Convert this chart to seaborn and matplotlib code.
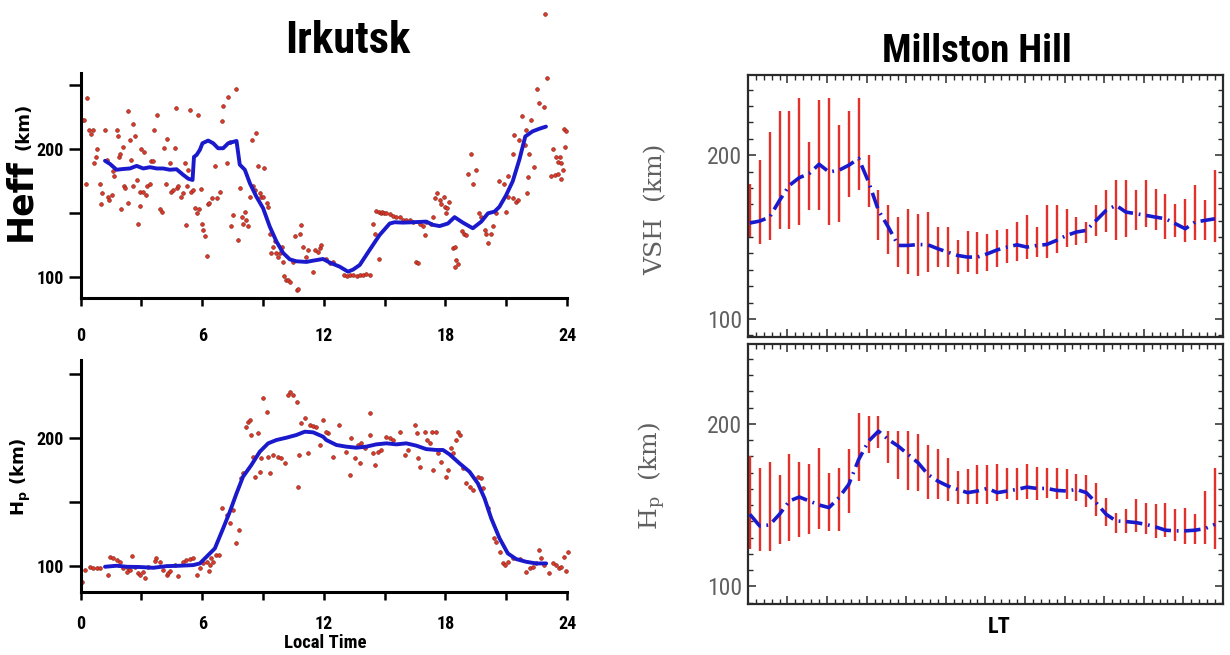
import numpy as np
import pandas as pd
import matplotlib
matplotlib.use("Agg")
import matplotlib.pyplot as plt
import seaborn as sns
from matplotlib.ticker import MultipleLocator, FixedLocator

# ---------------- data ----------------
# Irkutsk, Heff scatter (local time [h], height [km])
heff_hour = [0.05, 0.16, 0.30, 0.43, 0.59, 0.49, 0.79, 0.76, 0.67, 0.26, 0.95, 1.03, 1.00, 1.22, 1.28, 1.33, 1.41, 1.53, 1.61, 1.64,
             1.77, 1.86, 1.91, 1.94, 1.99, 2.07, 2.15, 2.20, 2.32, 2.35, 2.43, 2.46, 2.56, 2.60, 2.68, 2.76, 2.84, 2.92, 2.92, 2.97,
             3.09, 3.14, 3.22, 3.29, 3.42, 3.45, 3.55, 3.61, 3.75, 3.91, 3.99, 4.11, 4.21, 4.24, 4.40, 4.45, 4.57, 4.65, 4.70, 4.76,
             4.81, 4.93, 5.06, 5.14, 5.22, 5.27, 5.32, 5.39, 5.44, 5.52, 5.63, 5.72, 5.80, 5.85, 5.96, 6.01, 6.05, 6.13, 6.21, 6.29,
             6.34, 6.46, 6.62, 6.74, 6.87, 6.95, 7.03, 7.20, 7.28, 7.36, 7.44, 7.52, 7.66, 7.77, 7.85, 7.94, 8.02, 8.10, 8.18, 8.26,
             8.35, 8.43, 8.51, 8.59, 8.67, 8.76, 8.84, 8.92, 9.00, 9.04, 9.17, 9.25, 9.33, 9.41, 9.50, 9.58, 9.66, 9.74, 9.82, 9.91,
             9.96, 10.02, 10.15, 10.23, 10.32, 10.48, 10.56, 10.65, 10.73, 10.81, 10.89, 10.97, 11.14, 11.22, 11.47, 11.55, 11.71, 11.80, 11.88, 12.12,
             12.29, 12.45, 12.97, 13.13, 13.30, 13.46, 13.63, 13.79, 13.95, 14.10, 14.26, 14.42, 14.50, 14.55, 14.70, 14.72, 14.80, 14.89, 14.97, 15.08,
             15.25, 15.41, 15.57, 15.74, 15.90, 16.06, 16.23, 16.40, 16.56, 16.64, 16.73, 16.90, 16.97, 17.05, 17.30, 17.38, 17.50, 17.60, 17.72, 17.80,
             17.93, 17.99, 18.10, 18.20, 18.05, 18.37, 18.45, 18.53, 18.60, 18.45, 18.83, 18.94, 19.02, 19.10, 19.27, 19.35, 19.50, 19.68, 19.77, 19.93,
             20.01, 20.10, 20.26, 20.34, 20.50, 20.66, 20.91, 20.99, 21.08, 21.08, 21.32, 21.32, 21.40, 21.49, 21.57, 21.65, 21.78, 21.91, 21.98, 22.01,
             22.06, 22.14, 22.23, 22.39, 22.51, 22.61, 22.88, 22.90, 23.00, 23.22, 23.29, 23.43, 23.46, 23.55, 23.55, 23.63, 23.71, 23.71, 23.79, 23.87,
             23.90, 23.95]
heff_km = [223, 223, 240, 215, 215, 212, 200, 194, 189, 173, 173, 166, 157, 215, 192, 163, 160, 164, 183, 179,
           215, 210, 194, 196, 153, 202, 171, 170, 158, 230, 207, 192, 220, 171, 210, 176, 142, 167, 156, 200,
           167, 198, 164, 171, 173, 191, 191, 215, 227, 153, 151, 201, 173, 208, 189, 167, 168, 201, 232, 170,
           171, 163, 166, 189, 141, 171, 184, 231, 167, 168, 154, 150, 227, 153, 169, 142, 137, 132, 117, 157,
           158, 162, 187, 162, 167, 222, 234, 189, 241, 206, 140, 149, 247, 129, 170, 147, 142, 151, 145, 140,
           163, 207, 171, 168, 213, 187, 166, 163, 163, 185, 158, 155, 134, 119, 124, 128, 119, 116, 119, 124,
           112, 101, 98, 98, 96, 112, 132, 90, 91, 134, 141, 124, 116, 121, 104, 121, 120, 123, 125, 114,
           111, 112, 102, 101, 101.5, 102, 101, 102, 102, 102.5, 102, 142, 134, 152, 114, 151, 150, 151, 150, 150.5,
           149.5, 148, 147, 147, 145, 145, 145, 143.5, 112, 111.5, 142, 140, 133, 143.5, 142, 147, 162, 166, 160, 157,
           163, 155, 154, 159, 150, 123, 124, 113.5, 110, 108, 136, 134, 133, 181, 196, 173, 184, 150, 147, 137,
           134, 127, 134, 140, 150, 175, 173, 151, 163, 179, 162, 196, 211, 159, 160, 207, 226, 203, 215, 166,
           178, 196, 223, 186, 247, 236, 233, 306, 256, 179, 200, 180, 194, 190, 181, 194, 189, 177, 184, 216,
           202, 214]

# Irkutsk, Heff smoothed curve
heff_line_hour = [1.20, 1.45, 1.77, 2.10, 2.43, 2.76, 3.09, 3.42, 3.75, 4.07, 4.40, 4.73, 5.06, 5.31, 5.52, 5.59, 5.72, 5.88, 6.01, 6.29,
                  6.54, 6.78, 7.03, 7.28, 7.69, 7.85, 8.10, 8.35, 8.67, 9.00, 9.33, 9.66, 9.99, 10.32, 10.65, 11.14, 11.47, 11.96, 12.29, 12.78,
                  13.19, 13.44, 13.77, 14.26, 14.75, 15.25, 15.49, 15.90, 16.40, 17.05, 17.38, 17.71, 18.12, 18.45, 18.86, 19.35, 19.77, 20.10, 20.42, 20.66,
                  20.99, 21.32, 21.65, 21.94, 22.30, 22.63, 22.96]
heff_line_km = [191, 188.5, 184, 184.6, 185, 187, 185, 186, 185, 185, 184, 184.4, 180, 177, 176, 194, 195.6, 199.5, 204.7, 206.8,
                204.7, 200.8, 200.8, 204.7, 206.5, 188, 184, 173.4, 163, 154, 139.6, 128, 119, 114, 112.5, 112, 113, 114.3, 111.5, 108.3,
                104.4, 106, 109.6, 121.4, 133, 142, 143, 142.7, 143, 143.5, 141, 140, 142, 147, 142.7, 138.3, 143.5, 150, 151.3, 155,
                164, 175, 192, 210, 214, 216, 217.7]

# Irkutsk, Hp scatter
hp_hour = [0.05, 0.21, 0.46, 0.62, 0.79, 0.95, 1.36, 1.44, 1.61, 1.77, 1.94, 2.10, 2.27, 2.35, 2.43, 2.51, 2.67, 2.84, 2.92, 3.09,
           3.17, 3.33, 3.66, 3.74, 3.91, 4.07, 4.24, 4.32, 4.40, 4.65, 4.81, 5.06, 5.22, 5.39, 5.55, 5.72, 5.88, 6.04, 6.21, 6.37,
           6.45, 6.54, 6.70, 6.83, 6.34, 6.99, 7.20, 7.39, 7.52, 7.65, 7.82, 7.93, 8.01, 8.18, 8.26, 8.34, 8.38, 8.51, 8.59, 8.75,
           8.84, 8.92, 9.00, 9.17, 9.25, 9.33, 9.50, 9.74, 9.90, 10.07, 10.23, 10.35, 10.48, 10.68, 10.73, 10.77, 10.89, 11.06, 11.22, 11.30,
           11.47, 11.63, 11.80, 11.96, 12.20, 12.12, 12.45, 12.74, 13.11, 13.28, 13.36, 13.52, 13.69, 13.77, 13.85, 14.01, 14.26, 14.29, 14.42, 14.51,
           14.67, 14.83, 15.08, 15.24, 15.41, 15.74, 15.98, 16.15, 16.51, 16.59, 16.67, 16.76, 17.00, 17.09, 17.25, 17.33, 17.41, 17.55, 17.63, 17.80,
           18.04, 18.12, 18.29, 18.37, 18.53, 18.62, 18.70, 18.86, 19.02, 19.19, 19.35, 19.60, 19.76, 19.84, 20.09, 20.42, 20.50, 20.67, 20.83, 20.92,
           21.08, 21.33, 21.66, 21.98, 22.15, 22.31, 22.47, 22.64, 22.72, 22.88, 23.13, 23.29, 23.46, 23.62, 23.70, 23.86, 24.03, 23.95]
hp_km = [87.5, 96.6, 99.2, 97.9, 98.4, 97.9, 92.7, 107, 105.7, 104.4, 103.1, 97.9, 95.3, 97.9, 96.6, 107.6, 99.2, 94, 92.7, 95.3,
         90.1, 99.2, 103.6, 105.7, 103.1, 96.6, 92.7, 94, 95.8, 100.5, 92.2, 103.1, 104.4, 105.2, 106.2, 92.7, 97.9, 101.8, 103.1, 100.5,
         105.7, 103.1, 108.3, 108.3, 95.8, 144.8, 139.6, 133.1, 143.5, 117.4, 127.9, 168.2, 172.1, 208.6, 212.5, 213.8, 202.1, 185.2, 169.5, 203.4,
         173.4, 183.9, 230.7, 220.3, 185.2, 172.1, 186.5, 185.2, 183.9, 179.9, 233.3, 235.9, 233.3, 228.1, 161.7, 186.5, 211.2, 215.1, 187.8, 209.9,
         209.4, 208.6, 194.3, 213.8, 203.4, 204.7, 185.2, 209.9, 189.1, 170.8, 199.5, 183.9, 194.3, 179.9, 195.6, 191.7, 219, 202.1, 187.8, 178.6,
         189.1, 190.4, 200.8, 199.5, 198.2, 204.2, 186.5, 190.4, 209.9, 203.4, 183.9, 177.3, 204.2, 198.2, 195.6, 204.2, 174.7, 204.7, 187.8, 181.3,
         169.5, 174.7, 191.7, 187.8, 198.2, 204.7, 202.1, 176, 164.3, 161.7, 159.1, 169.5, 168.2, 160.4, 144.8, 121.4, 118.8, 110.9, 101.8, 100.5,
         103.1, 105.7, 105.2, 95.3, 97.9, 99.2, 101.8, 112.2, 105.7, 100.5, 94, 101.8, 100.5, 97.9, 99.2, 107, 110.9, 95.8]

# Irkutsk, Hp smoothed curve
hp_line_hour = [1.20, 1.77, 2.27, 2.92, 3.58, 4.24, 4.89, 5.55, 5.88, 6.21, 6.62, 7.03, 7.36, 7.69, 8.01, 8.42, 8.84, 9.25, 9.66, 10.15,
                10.64, 11.06, 11.47, 11.96, 12.12, 12.62, 13.11, 13.60, 14.09, 14.59, 15.08, 15.58, 16.07, 16.56, 17.05, 17.55, 17.88, 18.20, 18.70, 19.19,
                19.60, 19.93, 20.26, 20.67, 21.08, 21.49, 21.98, 22.47, 22.97]
hp_line_km = [99.2, 100, 99.2, 99, 98.4, 99.7, 100, 100.5, 101.8, 107, 113.5, 129.2, 142.2, 156.5, 169.5, 178.6, 189.1, 195.6, 198.2, 200,
              202.1, 204.7, 204.2, 200.8, 198.2, 194.3, 193, 192.2, 193, 194.8, 195.6, 194.8, 195.6, 193.8, 191.1, 190.4, 190.4, 187, 179.9, 173.4,
              164.3, 152.6, 137, 121.4, 109.6, 105.2, 103.1, 101.8, 101.8]

# Millstone Hill, half-hourly means and spread
mh_lt = [0.1, 0.6, 1.1, 1.6, 2.1, 2.6, 3.1, 3.6, 4.1, 4.6, 5.1, 5.6, 6.1, 6.6, 7.1, 7.6, 8.1, 8.6, 9.1, 9.6, 10.1, 10.6, 11.1, 11.6,
         12.1, 12.6, 13.1, 13.6, 14.1, 14.6, 15.1, 15.6, 16.1, 16.6, 17.1, 17.6, 18.1, 18.6, 19.1, 19.6, 20.1, 20.6, 21.1, 21.6, 22.1, 22.6, 23.1, 23.6]
vsh_mean = [158.6, 159.8, 162.2, 172.4, 181.6, 186.3, 188.8, 194.5, 189.8, 190.8, 193.9, 198.0, 183.7, 166.3, 156.1, 144.9, 144.9, 145.5, 145.3, 142.9, 140.8, 138.8, 137.8, 137.8,
            139.8, 142.2, 143.9, 145.3, 143.9, 144.9, 145.5, 148.0, 151.0, 153.1, 154.1, 160.2, 166.3, 169.4, 165.3, 164.3, 163.3, 162.2, 161.2, 158.2, 155.1, 159.2, 160.2, 161.2]
vsh_low = [150.0, 145.9, 148.0, 155.1, 155.1, 157.1, 166.3, 166.3, 157.1, 159.2, 174.5, 178.6, 168.4, 148.0, 139.8, 131.6, 127.6, 126.5, 128.6, 131.6, 131.6, 127.6, 128.6, 127.6,
           129.6, 131.6, 134.1, 135.3, 136.7, 137.8, 137.3, 140.2, 143.9, 144.9, 146.3, 150.4, 153.1, 148.0, 150.0, 154.1, 156.1, 154.1, 149.0, 150.0, 146.9, 148.0, 148.0, 146.9]
vsh_high = [182.7, 196.9, 214.3, 227.1, 227.1, 234.7, 208.2, 233.7, 234.7, 218.4, 227.1, 234.7, 200.0, 178.6, 169.4, 162.2, 167.3, 164.3, 165.3, 156.1, 156.1, 148.4, 153.5, 153.1,
            152.0, 154.1, 155.1, 159.2, 163.3, 156.1, 169.4, 169.4, 167.3, 162.2, 159.2, 169.4, 178.6, 184.7, 184.7, 178.6, 184.7, 179.6, 176.5, 170.4, 173.5, 181.6, 172.4, 191.2]
mhp_mean = [144.4, 137.2, 137.8, 144.4, 152.6, 155.0, 152.6, 150.1, 148.5, 154.6, 162.8, 178.1, 189.4, 195.5, 190.4, 186.3, 181.2, 176.1, 168.9, 164.8, 161.8, 159.7, 157.7, 158.7,
            160.3, 157.7, 158.7, 159.7, 161.1, 160.3, 160.3, 159.1, 158.7, 159.7, 157.7, 151.5, 144.4, 140.3, 139.9, 139.3, 138.2, 136.6, 134.6, 134.2, 134.2, 134.6, 135.6, 138.2]
mhp_low = [122.9, 121.9, 121.9, 126.0, 128.0, 130.5, 132.5, 135.2, 134.2, 134.2, 145.4, 164.8, 182.2, 185.3, 176.1, 165.8, 159.1, 158.7, 153.6, 153.6, 152.6, 150.9, 150.9, 150.9,
           150.5, 152.6, 153.6, 153.0, 153.6, 153.0, 154.6, 153.6, 153.6, 152.6, 148.9, 143.4, 137.2, 133.1, 133.1, 133.7, 132.1, 129.7, 130.5, 128.0, 126.4, 126.4, 126.4, 122.9]
mhp_high = [180.2, 173.0, 176.5, 168.5, 181.2, 176.5, 175.5, 185.3, 169.9, 173.0, 184.3, 206.7, 204.7, 204.7, 195.5, 195.5, 195.5, 193.5, 187.3, 184.3, 179.1, 171.0, 172.0, 174.6,
            174.6, 175.1, 173.0, 173.0, 175.1, 173.4, 173.0, 173.0, 172.0, 168.9, 168.5, 163.8, 154.6, 145.4, 147.4, 153.6, 151.5, 150.5, 151.5, 147.4, 148.5, 144.4, 158.7, 173.0]

left_xticks = [0, 3, 6, 9, 12, 15, 18, 21, 24]
left_xticklabels = ["0", "", "6", "", "12", "", "18", "", "24"]
left_yticks = [100, 150, 200, 250]
left_yticklabels = ["100", "", "200", ""]

# ---------------- style ----------------
sns.set_theme(style="white")
NARROW = ["Liberation Sans Narrow", "Roboto Condensed", "Liberation Sans", "DejaVu Sans"]
plt.rcParams["font.family"] = NARROW
plt.rcParams.update({
    "text.color": "black",
    "axes.labelcolor": "black",
    "xtick.color": "black",
    "ytick.color": "black",
    "mathtext.fontset": "custom",
    "mathtext.rm": "DejaVu Serif",
    "mathtext.it": "DejaVu Serif:italic",
    "mathtext.bf": "DejaVu Sans:bold",
})

RED = "#e3382a"
DOT_EDGE = "#8a2a1c"
BLUE = "#1a1acc"

fig = plt.figure(figsize=(12.3, 6.55), dpi=100)
fig.patch.set_facecolor("white")

ax1 = fig.add_axes([0.0656, 0.5446, 0.3954, 0.344])
ax2 = fig.add_axes([0.0656, 0.0966, 0.3954, 0.3538])
ax3 = fig.add_axes([0.608, 0.4855, 0.3862, 0.400])
ax4 = fig.add_axes([0.608, 0.0774, 0.3862, 0.397])

heff_df = pd.DataFrame({"LT": heff_hour, "H": heff_km})
heff_line = pd.DataFrame({"LT": heff_line_hour, "H": heff_line_km})
hp_df = pd.DataFrame({"LT": hp_hour, "H": hp_km})
hp_line = pd.DataFrame({"LT": hp_line_hour, "H": hp_line_km})

for ax, pts, line, ylim, pad in [(ax1, heff_df, heff_line, (83.6, 259.6), 14.5),
                                 (ax2, hp_df, hp_line, (79.7, 260.7), 11)]:
    sns.scatterplot(data=pts, x="LT", y="H", ax=ax, color=RED, s=7, edgecolor=DOT_EDGE,
                    linewidth=0.5, clip_on=False, zorder=2, legend=False)
    sns.lineplot(data=line, x="LT", y="H", ax=ax, color=BLUE, lw=2.8, sort=False,
                 estimator=None, zorder=3, legend=False)
    ax.set_xlim(0, 24)
    ax.set_ylim(*ylim)
    ax.set_xlabel("")
    ax.set_ylabel("")
    for s in ["top", "right"]:
        ax.spines[s].set_visible(False)
    for s in ["left", "bottom"]:
        ax.spines[s].set_linewidth(2.2)
        ax.spines[s].set_color("black")
    ax.set_xticks(left_xticks)
    ax.set_xticklabels(left_xticklabels)
    ax.set_yticks(left_yticks)
    ax.set_yticklabels(left_yticklabels)
    ax.tick_params(axis="x", direction="out", length=6, width=1.8, pad=pad,
                   labelsize=13, colors="black", bottom=True)
    ax.tick_params(axis="y", direction="out", length=9, width=1.8, pad=3,
                   labelsize=13, colors="black", left=True)
    for lab in ax.get_xticklabels() + ax.get_yticklabels():
        lab.set_fontweight("bold")
    ax.set_facecolor("white")

mh_vsh = pd.DataFrame({"LT": mh_lt, "mean": vsh_mean, "low": vsh_low, "high": vsh_high})
mh_hp = pd.DataFrame({"LT": mh_lt, "mean": mhp_mean, "low": mhp_low, "high": mhp_high})

for ax, df in [(ax3, mh_vsh), (ax4, mh_hp)]:
    ax.vlines(df["LT"], df["low"], df["high"], color="#e2302a", lw=1.7, zorder=2)
    sns.lineplot(data=df, x="LT", y="mean", ax=ax, color=BLUE, lw=2.6, sort=False,
                 estimator=None, zorder=3, legend=False,
                 linestyle=(0, (4.5, 1.6, 0.5, 1.6)))
    ax.set_xlim(0, 24)
    ax.set_ylim(89, 249)
    ax.set_xlabel("")
    ax.set_ylabel("")
    for s in ax.spines.values():
        s.set_visible(True)
        s.set_linewidth(1.6)
        s.set_color("#2a2a2a")
    ax.xaxis.set_major_locator(MultipleLocator(2))
    ax.xaxis.set_minor_locator(MultipleLocator(0.4))
    ax.yaxis.set_major_locator(FixedLocator([100, 200]))
    ax.yaxis.set_minor_locator(MultipleLocator(10))
    ax.tick_params(axis="both", which="both", direction="in", top=True, right=True,
                   bottom=True, left=True, colors="#2a2a2a")
    ax.tick_params(axis="both", which="major", length=6, width=1.1)
    ax.tick_params(axis="both", which="minor", length=3.5, width=1.0)
    ax.tick_params(axis="x", which="both", labelbottom=False)
    ax.tick_params(axis="y", which="major", labelsize=17, labelcolor="#606060", pad=4)
    ax.set_facecolor("white")

# ---------------- texts ----------------
fig.text(348 / 1230, 1 - 53 / 655, "Irkutsk", ha="center", va="baseline",
         fontsize=32, fontweight="bold", family=NARROW, color="black")
fig.text(977 / 1230, 1 - 62 / 655, "Millston Hill", ha="center", va="baseline",
         fontsize=28, fontweight="bold", family=NARROW, color="black")

fig.text(20 / 1230, 1 - 200 / 655, "Heff", rotation=90, ha="center", va="center",
         fontsize=25, fontweight="bold", family=["DejaVu Sans"], color="black")
fig.text(23 / 1230, 1 - 126 / 655, "(km)", rotation=90, ha="center", va="center",
         fontsize=13, fontweight="bold", family=["DejaVu Sans"], color="black")
fig.text(21 / 1230, 1 - 477 / 655, r"$\mathbf{H_p}$ (km)", rotation=90, ha="center", va="center",
         fontsize=13, fontweight="bold", family=["DejaVu Sans"], color="black")
fig.text(325 / 1230, 1 - 643 / 655, "Local Time", ha="center", va="center",
         fontsize=13.5, fontweight="bold", family=NARROW, color="black")

fig.text(656 / 1230, 1 - 209 / 655, "VSH  (km)", rotation=90, ha="center", va="center",
         fontsize=18, color="#606060", family=["DejaVu Serif"])
fig.text(652 / 1230, 1 - 476 / 655, r"$\mathrm{H_p}$  (km)", rotation=90, ha="center", va="center",
         fontsize=18, color="#606060", family=["DejaVu Serif"])
fig.text(999 / 1230, 1 - 627 / 655, "LT", ha="center", va="center",
         fontsize=16, fontweight="bold", family=NARROW, color="black")

fig.savefig("out.png", dpi=100, facecolor="white")
